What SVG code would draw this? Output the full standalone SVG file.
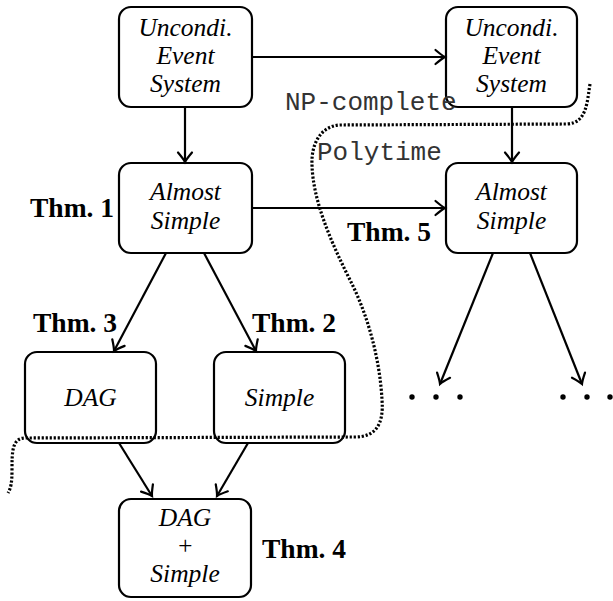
<svg xmlns="http://www.w3.org/2000/svg" width="613" height="601" viewBox="0 0 613 601">
<style>
.box{fill:none;stroke:#000;stroke-width:2.2}
.lbl{font-family:"Liberation Serif","Times New Roman",serif;font-style:italic;font-size:25.5px;text-anchor:middle;fill:#000}
.thm{font-family:"Liberation Serif","Times New Roman",serif;font-weight:bold;font-size:27.5px;fill:#000}
.mono{font-family:"Liberation Mono","Courier New",monospace;font-size:26px;fill:#333}
.edge{fill:none;stroke:#000;stroke-width:2.2;marker-end:url(#arr)}
.dots{fill:none;stroke:#000;stroke-width:3.2;stroke-dasharray:2.2 1.8}
</style>
<defs>
<marker id="arr" markerUnits="userSpaceOnUse" markerWidth="20" markerHeight="20" refX="0" refY="0" viewBox="-12 -10 14 20" orient="auto" overflow="visible">
<path d="M-9.5,-7 Q-3,-1.5 0,0 Q-3,1.5 -9.5,7" fill="none" stroke="#000" stroke-width="2.2" stroke-linecap="round"/>
</marker>
</defs>
<g id="connectors">
<line class="edge" x1="252" y1="57" x2="445" y2="57"/>
<line class="edge" x1="185" y1="107" x2="185" y2="162"/>
<line class="edge" x1="512" y1="107" x2="512" y2="162"/>
<line class="edge" x1="252" y1="208" x2="445" y2="208"/>
<line class="edge" x1="166" y1="253" x2="114" y2="351"/>
<line class="edge" x1="204" y1="253" x2="256" y2="351"/>
<line class="edge" x1="119" y1="443" x2="152" y2="496"/>
<line class="edge" x1="248" y1="443" x2="217" y2="496"/>
<line class="edge" x1="493" y1="253" x2="440" y2="384"/>
<line class="edge" x1="530" y1="253" x2="582" y2="384"/>
</g>
<g id="node-uncond-left">
<rect class="box" x="119" y="7" width="133" height="100" rx="12"/>
<text class="lbl" x="185.5" y="36">Uncondi.</text>
<text class="lbl" x="185.5" y="64">Event</text>
<text class="lbl" x="185.5" y="92">System</text>
</g>
<g id="node-uncond-right">
<rect class="box" x="446" y="7" width="131" height="100" rx="12"/>
<text class="lbl" x="511.5" y="36">Uncondi.</text>
<text class="lbl" x="511.5" y="64">Event</text>
<text class="lbl" x="511.5" y="92">System</text>
</g>
<g id="node-almost-left">
<rect class="box" x="119" y="163" width="133" height="90" rx="12"/>
<text class="lbl" x="185.5" y="200">Almost</text>
<text class="lbl" x="185.5" y="229">Simple</text>
</g>
<g id="node-almost-right">
<rect class="box" x="446" y="163" width="131" height="90" rx="12"/>
<text class="lbl" x="511.5" y="200">Almost</text>
<text class="lbl" x="511.5" y="229">Simple</text>
</g>
<g id="node-dag">
<rect class="box" x="25" y="352" width="131" height="91" rx="12"/>
<text class="lbl" x="90.5" y="406">DAG</text>
</g>
<g id="node-simple">
<rect class="box" x="214" y="352" width="131" height="91" rx="12"/>
<text class="lbl" x="279.5" y="406">Simple</text>
</g>
<g id="node-dag-simple">
<rect class="box" x="119" y="499" width="132" height="98" rx="12"/>
<text class="lbl" x="185" y="526">DAG</text>
<text class="lbl" x="185" y="554">+</text>
<text class="lbl" x="185" y="582">Simple</text>
</g>
<g id="ellipses" fill="#000">
<circle cx="412" cy="397" r="2.7"/><circle cx="436" cy="397" r="2.7"/><circle cx="460" cy="397" r="2.7"/>
<circle cx="563" cy="397" r="2.7"/><circle cx="587" cy="397" r="2.7"/><circle cx="610" cy="397" r="2.7"/>
</g>
<g id="labels">
<text class="thm" x="30" y="217">Thm. 1</text>
<text class="thm" x="252" y="332">Thm. 2</text>
<text class="thm" x="33" y="332">Thm. 3</text>
<text class="thm" x="262" y="558">Thm. 4</text>
<text class="thm" x="347" y="241">Thm. 5</text>
</g>
<g id="boundary">
<path class="dots" d="M590,84 C587,102 587,123 567,124 L340,125 C320,126 311,145 312,165 C313,200 330,240 350,280 C368,315 380,360 382,400 C384,425 375,437 355,437 L25,438 C12,438 12,452 12,470 C12,482 11,488 8,493"/>
<text class="mono" x="285" y="110">NP-complete</text>
<text class="mono" x="317" y="160">Polytime</text>
</g>
</svg>
